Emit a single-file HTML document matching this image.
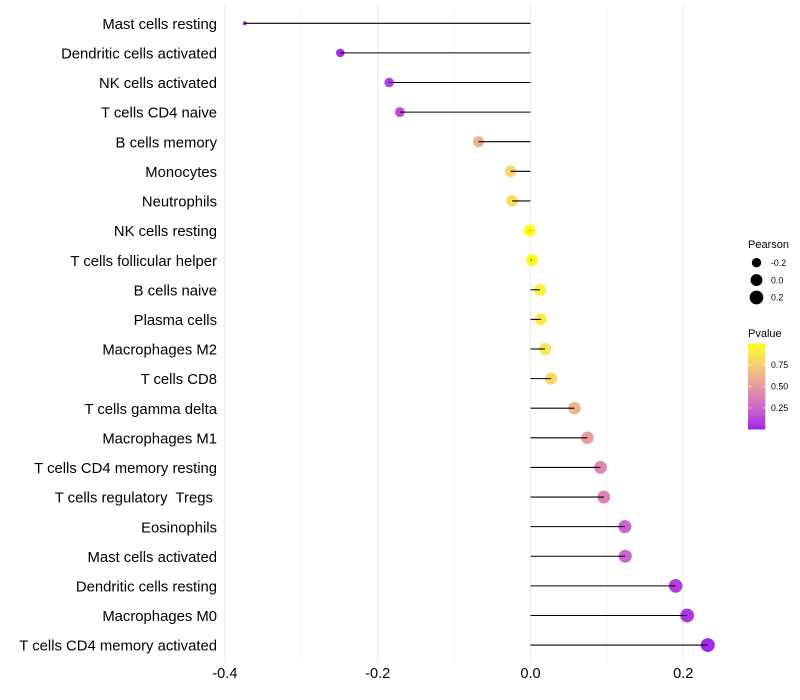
<!DOCTYPE html>
<html>
<head>
<meta charset="utf-8">
<title>Lollipop chart</title>
<style>
html,body{margin:0;padding:0;background:#fff;}
svg{display:block;font-family:"Liberation Sans",sans-serif;}
text{white-space:pre;}
</style>
</head>
<body>
<svg id="chart" width="800" height="700" viewBox="0 0 800 700" xmlns="http://www.w3.org/2000/svg"></svg>
<script>
const categories = ["Mast cells resting","Dendritic cells activated","NK cells activated","T cells CD4 naive","B cells memory","Monocytes","Neutrophils","NK cells resting","T cells follicular helper","B cells naive","Plasma cells","Macrophages M2","T cells CD8","T cells gamma delta","Macrophages M1","T cells CD4 memory resting","T cells regulatory  Tregs ","Eosinophils","Mast cells activated","Dendritic cells resting","Macrophages M0","T cells CD4 memory activated"];
const pearson = [-0.374,-0.249,-0.185,-0.171,-0.068,-0.026,-0.024,-0.001,0.002,0.0125,0.0137,0.019,0.027,0.0575,0.0745,0.0916,0.096,0.1235,0.124,0.19,0.205,0.232];
const pvalue = [0.01,0.03,0.1,0.13,0.62,0.8,0.82,0.99,0.98,0.92,0.91,0.87,0.81,0.62,0.52,0.42,0.38,0.25,0.25,0.09,0.06,0.02];
const xMajorTicks = [-0.4,-0.2,0.0,0.2];
const xMinorTicks = [-0.3,-0.1,0.1];
const xTickLabels = ["-0.4","-0.2","0.0","0.2"];
const sizeLegendValues = [-0.2,0.0,0.2];
const sizeLegendLabels = ["-0.2","0.0","0.2"];
const colorLegendValues = [0.25,0.5,0.75];
const colorLegendLabels = ["0.25","0.50","0.75"];

const NS = "http://www.w3.org/2000/svg";
const svg = document.getElementById("chart");
function make(tag, attrs, parent){
  const el = document.createElementNS(NS, tag);
  for (const k in attrs) el.setAttribute(k, attrs[k]);
  (parent || svg).appendChild(el);
  return el;
}

/* axis functions */
const x = v => 530.5 + v * 764;
const y = i => 23.28 + i * 29.61;
const pMin = Math.min(...pearson), pMax = Math.max(...pearson);
const radius = v => {
  const t = Math.max(0, Math.min(1, (v - pMin) / (pMax - pMin)));
  return 2 + 5 * Math.sqrt(t);
};

/* Lab colour interpolation purple -> yellow */
function rgb2lab(c){
  let [r,g,b] = c.map(v=>{v/=255;return v>0.04045?Math.pow((v+0.055)/1.055,2.4):v/12.92;});
  let X=(0.4124*r+0.3576*g+0.1805*b)/0.95047,Y=0.2126*r+0.7152*g+0.0722*b,Z=(0.0193*r+0.1192*g+0.9505*b)/1.08883;
  const f=t=>t>0.008856?Math.cbrt(t):7.787*t+16/116;
  return [116*f(Y)-16,500*(f(X)-f(Y)),200*(f(Y)-f(Z))];
}
function lab2rgb(l){
  const fy=(l[0]+16)/116,fx=l[1]/500+fy,fz=fy-l[2]/200;
  const g=t=>t*t*t>0.008856?t*t*t:(t-16/116)/7.787;
  const X=g(fx)*0.95047,Y=g(fy),Z=g(fz)*1.08883;
  const lin=[3.2406*X-1.5372*Y-0.4986*Z,-0.9689*X+1.8758*Y+0.0415*Z,0.0557*X-0.204*Y+1.057*Z];
  return lin.map(v=>{v=Math.max(0,Math.min(1,v));v=v>0.0031308?1.055*Math.pow(v,1/2.4)-0.055:12.92*v;return Math.round(v*255);});
}
const labLow = rgb2lab([160,32,240]), labHigh = rgb2lab([255,255,0]);
function colorOf(p){
  const t = Math.max(0, Math.min(1, p));
  const c = lab2rgb(labLow.map((v,i)=>v+(labHigh[i]-v)*t));
  return "rgb("+c.join(",")+")";
}

/* gridlines */
xMinorTicks.forEach(v=>{
  const line = make("line",{x1:x(v),x2:x(v),y1:5,y2:663,stroke:"#ebebeb","stroke-width":0.55});
  
  
});
xMajorTicks.forEach(v=>{
  const line = make("line",{x1:x(v),x2:x(v),y1:5,y2:663,stroke:"#ebebeb","stroke-width":1.07});
  
  
});

/* points then segments */
categories.forEach((c,i)=>{
  const pt = make("circle",{cx:x(pearson[i]),cy:y(i),r:radius(pearson[i]),fill:colorOf(pvalue[i])});
  
  
});
categories.forEach((c,i)=>{
  const seg = make("line",{x1:x(0),x2:x(pearson[i]),y1:y(i),y2:y(i),stroke:"#000","stroke-width":1.07});
  
  
});

/* y labels */
categories.forEach((c,i)=>{
  const t = make("text",{x:217,y:y(i)+5.6,"text-anchor":"end","font-size":14.85,fill:"#000"});
  t.textContent = c;
  
  
});

/* x labels */
xMajorTicks.forEach((v,i)=>{
  const t = make("text",{x:x(v),y:678,"text-anchor":"middle","font-size":14.6,fill:"#000"});
  t.textContent = xTickLabels[i];
  
  
});

/* size legend */
const sizeTitle = make("text",{x:748,y:248,"font-size":11,fill:"#000"});
sizeTitle.textContent = "Pearson";


sizeLegendValues.forEach((v,i)=>{
  const cy = 262.7 + i * 17.4;
  const dot = make("circle",{cx:756.5,cy:cy,r:radius(v),fill:"#000"});
  
  
  const t = make("text",{x:771,y:cy+3.2,"font-size":8.8,fill:"#000"});
  t.textContent = sizeLegendLabels[i];
  
  
});

/* colour legend */
const colorTitle = make("text",{x:748,y:337,"font-size":11,fill:"#000"});
colorTitle.textContent = "Pvalue";


const defs = make("defs",{});
const grad = make("linearGradient",{id:"pgrad",x1:0,y1:1,x2:0,y2:0},defs);
for (let s = 0; s <= 20; s++){
  make("stop",{offset:s/20,"stop-color":colorOf(s/20)},grad);
}
const barTop = 343.5, barH = 86, barX = 748, barW = 17.3;
const bar = make("rect",{x:barX,y:barTop,width:barW,height:barH,fill:"url(#pgrad)"});


const legendY = p => barTop + barH - p * barH;
colorLegendValues.forEach((v,i)=>{
  const yy = legendY(v);
  const a = make("line",{x1:barX,x2:barX+3.5,y1:yy,y2:yy,stroke:"#fff","stroke-width":0.5});
  
  
  const b = make("line",{x1:barX+barW-3.5,x2:barX+barW,y1:yy,y2:yy,stroke:"#fff","stroke-width":0.5});
  
  
  const t = make("text",{x:771,y:yy+3.2,"font-size":8.8,fill:"#000"});
  t.textContent = colorLegendLabels[i];
  
  
});
</script>
</body>
</html>
